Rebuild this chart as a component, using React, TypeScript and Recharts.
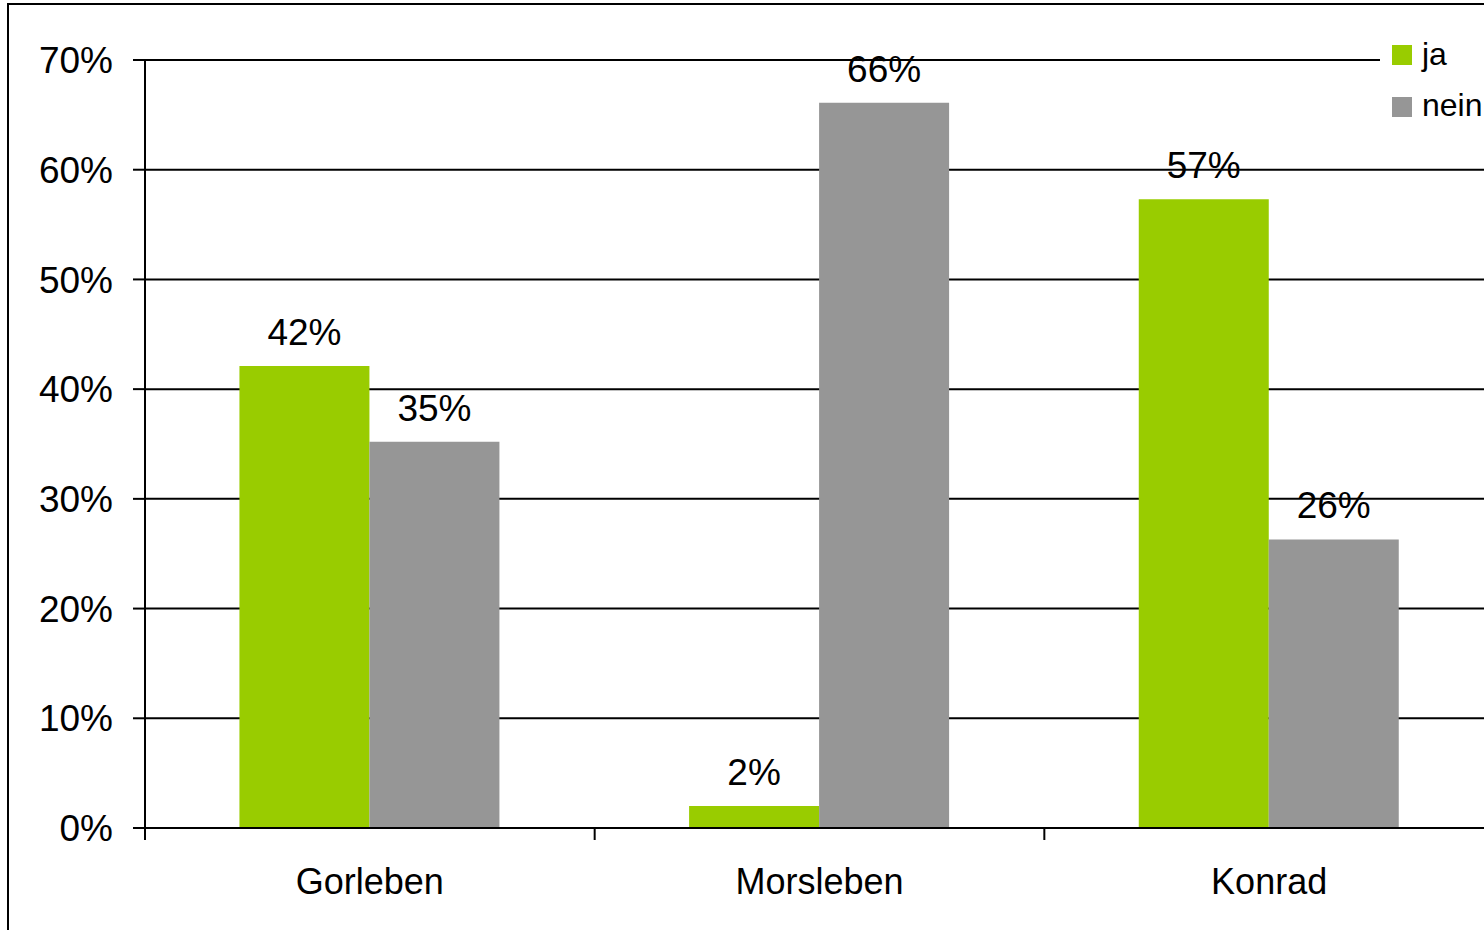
import { BarChart, Bar, XAxis, YAxis, CartesianGrid, LabelList } from "recharts";

const sites = ["Gorleben", "Morsleben", "Konrad"];
const jaValues = [42.1, 2.0, 57.3];
const neinValues = [35.2, 66.1, 26.3];
const yTicks = [0, 10, 20, 30, 40, 50, 60, 70];

const data = sites.map((site, i) => ({ site, ja: jaValues[i], nein: neinValues[i] }));

const GREEN = "#99cc00";
const GRAY = "#969696";
const FONT = "'Liberation Sans', Arial, sans-serif";

const CHART_W = 1500;
const Y_AXIS_W = 145;
const RIGHT = 6;
const BAND = (CHART_W - Y_AXIS_W - RIGHT) / sites.length;

const pct = (v: any) => `${Math.round(Number(v))}%`;

function CategoryTick(props: any) {
  const { x, y, payload } = props;
  return (
    <g>
      <line x1={x - BAND / 2} x2={x - BAND / 2} y1={y} y2={y + 12} stroke="#000" strokeWidth={2} />
      <text x={x} y={y + 66} textAnchor="middle" fontSize={36} fontFamily={FONT} fill="#000">
        {payload.value}
      </text>
    </g>
  );
}

export default function App() {
  return (
    <div
      style={{
        position: "absolute",
        left: 0,
        top: 0,
        width: 1484,
        height: 930,
        overflow: "hidden",
        background: "#fff",
        fontFamily: FONT,
      }}
    >
      <div
        style={{
          position: "absolute",
          left: 7,
          top: 3,
          width: 1600,
          height: 1000,
          borderTop: "2px solid #000",
          borderLeft: "2px solid #000",
        }}
      />
      <div style={{ position: "absolute", left: 0, top: 0 }}>
        <BarChart
          width={CHART_W}
          height={930}
          data={data}
          margin={{ top: 60, right: RIGHT, left: 0, bottom: 42 }}
          barGap={0}
          barCategoryGap="21%"
        >
          <CartesianGrid vertical={false} stroke="#000" strokeWidth={2} />
          <XAxis
            dataKey="site"
            axisLine={{ stroke: "#000", strokeWidth: 2 }}
            tickLine={false}
            tickSize={0}
            tickMargin={0}
            height={60}
            tick={<CategoryTick />}
            interval={0}
          />
          <YAxis
            width={Y_AXIS_W}
            domain={[0, 70]}
            ticks={yTicks}
            interval={0}
            tickFormatter={(v: number) => `${v}%`}
            axisLine={{ stroke: "#000", strokeWidth: 2 }}
            tickLine={{ stroke: "#000", strokeWidth: 2 }}
            tickSize={12}
            tickMargin={20}
            tick={{ fontSize: 37, fontFamily: FONT, fill: "#000" }}
          />
          <Bar dataKey="ja" fill={GREEN} isAnimationActive={false}>
            <LabelList
              dataKey="ja"
              position="top"
              offset={21}
              formatter={pct}
              style={{ fontSize: 37, fontFamily: FONT, fill: "#000" }}
            />
          </Bar>
          <Bar dataKey="nein" fill={GRAY} isAnimationActive={false}>
            <LabelList
              dataKey="nein"
              position="top"
              offset={21}
              formatter={pct}
              style={{ fontSize: 37, fontFamily: FONT, fill: "#000" }}
            />
          </Bar>
        </BarChart>
      </div>
      <div
        style={{
          position: "absolute",
          left: 1380,
          top: 30,
          width: 120,
          height: 100,
          background: "#fff",
          fontSize: 32,
          color: "#000",
        }}
      >
        <div style={{ position: "absolute", left: 12, top: 15, width: 20, height: 20, background: GREEN }} />
        <div style={{ position: "absolute", left: 42, top: 6, lineHeight: "36px" }}>ja</div>
        <div style={{ position: "absolute", left: 12, top: 67, width: 20, height: 20, background: GRAY }} />
        <div style={{ position: "absolute", left: 42, top: 57, lineHeight: "36px" }}>nein</div>
      </div>
    </div>
  );
}
